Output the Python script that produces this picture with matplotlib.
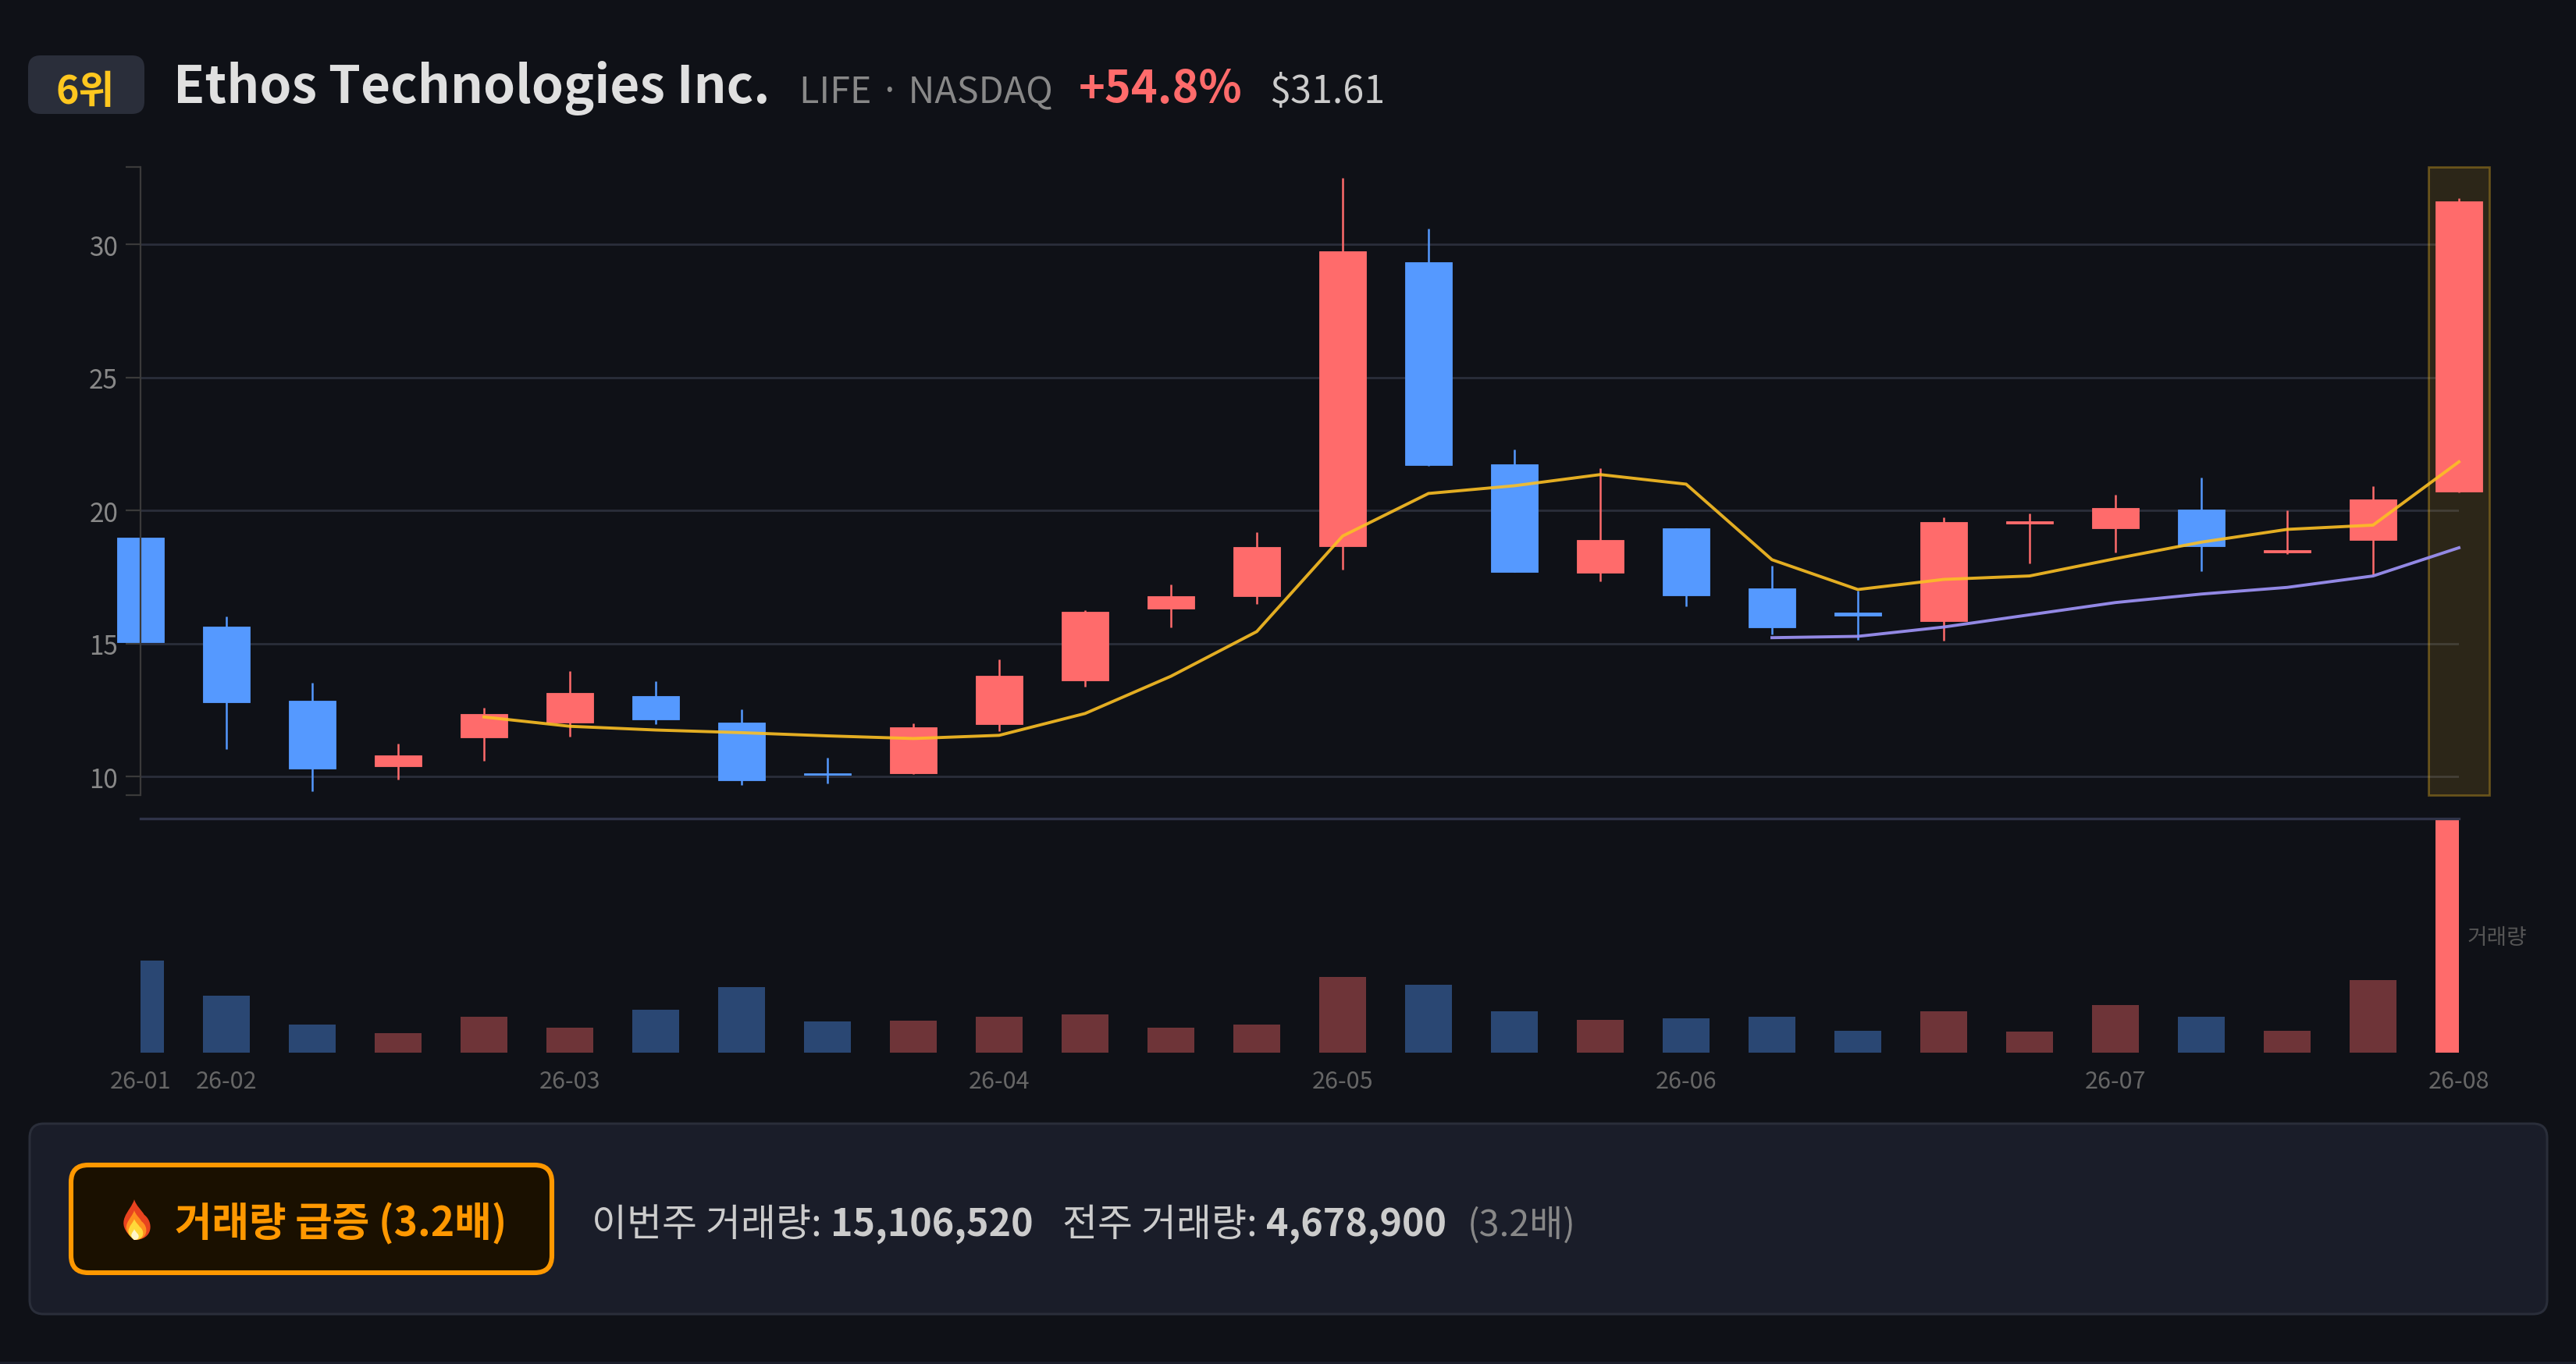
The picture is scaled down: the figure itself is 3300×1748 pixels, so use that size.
import numpy as np
import matplotlib
matplotlib.use('Agg')
import matplotlib.pyplot as plt
from matplotlib.patches import FancyBboxPatch, PathPatch, Rectangle
from matplotlib.path import Path

plt.rcParams['font.family'] = ['Noto Sans CJK KR', 'DejaVu Sans']

# weekly candles
opens = [18.99, 15.64, 12.85, 10.39, 11.46, 12.02, 13.03, 12.02, 10.13, 10.12,
         11.97, 13.62, 16.31, 16.78, 18.67, 29.34, 21.73, 17.66, 19.34, 17.07,
         16.17, 15.85, 19.51, 19.32, 20.05, 18.41, 18.88, 20.71]
closes = [15.05, 12.79, 10.29, 10.79, 12.36, 13.15, 12.14, 9.85, 10.07, 11.85,
          13.80, 16.20, 16.77, 18.64, 29.75, 21.70, 17.69, 18.89, 16.82, 15.60,
          16.06, 19.57, 19.59, 20.09, 18.65, 18.50, 20.42, 31.61]
highs = [18.99, 16.03, 13.52, 11.23, 12.59, 13.97, 13.57, 12.54, 10.72, 12.00,
         14.39, 16.26, 17.22, 19.18, 32.50, 30.59, 22.29, 21.60, 19.34, 17.93,
         17.00, 19.73, 19.88, 20.59, 21.25, 20.00, 20.91, 31.74]
lows = [15.05, 11.03, 9.44, 9.90, 10.59, 11.50, 11.97, 9.68, 9.73, 10.10,
        11.70, 13.38, 15.62, 16.48, 17.78, 21.67, 17.69, 17.34, 16.41, 15.33,
        15.15, 15.12, 18.02, 18.43, 17.73, 18.35, 17.58, 20.68]
ma_short = [None, None, None, None, 12.24, 11.89, 11.75, 11.65, 11.53, 11.43,
            11.55, 12.37, 13.77, 15.45, 19.04, 20.64, 20.93, 21.35, 20.99, 18.15,
            17.03, 17.41, 17.54, 18.19, 18.81, 19.29, 19.45, 21.83]
ma_long = [None] * 19 + [15.22, 15.27, 15.62, 16.08, 16.54, 16.86, 17.11, 17.54, 18.60]
volumes = [5940000, 3690000, 1800000, 1240000, 2330000, 1590000, 2770000, 4230000, 2000000, 2060000,
           2330000, 2450000, 1590000, 1830000, 4880000, 4380000, 2670000, 2110000, 2220000, 2320000,
           1430000, 2650000, 1340000, 3050000, 2320000, 1390000, 4678900, 15106520]
month_ticks = [0, 1, 5, 10, 14, 18, 23, 27]
month_labels = ['26-01', '26-02', '26-03', '26-04', '26-05', '26-06', '26-07', '26-08']
price_ticks = [10, 15, 20, 25, 30]
price_min, price_max = 9.29, 32.91

BG = '#0f1117'
RED = '#ff6b6b'
BLUE = '#5599ff'
W, H = 3300, 1749


def ax_rect(left, top, right, bottom):
    return [left / W, 1 - bottom / H, (right - left) / W, (bottom - top) / H]


fig = plt.figure(figsize=(16.5, 8.745), dpi=200, facecolor=BG)

# full figure axes in pixel coordinates for header and footer boxes
bg = fig.add_axes([0, 0, 1, 1], zorder=0)
bg.set_xlim(0, W)
bg.set_ylim(H, 0)
bg.axis('off')

bg.add_patch(Rectangle((0, 1746), W, 3, fc='#1a1d29', ec='none'))
bg.add_patch(FancyBboxPatch((36 + 14, 72 + 14), 149 - 28, 75 - 28, boxstyle='round,pad=14,rounding_size=16',
                            fc='#2a2e3a', ec='none'))
bg.text(109, 133, '6위', color='#ffc71f', fontsize=18, fontweight='bold', ha='center', va='baseline')
bg.text(222, 132, 'Ethos Technologies Inc.', color='#e0e0e0', fontsize=23.7, fontweight='bold', va='baseline')
bg.text(1024, 132, 'LIFE · NASDAQ', color='#888888', fontsize=16.8, va='baseline')
bg.text(1382, 132, '+54.8%', color=RED, fontsize=20.7, fontweight='bold', va='baseline')
bg.text(1626, 132, '$31.61', color='#cccccc', fontsize=17.5, va='baseline')

# alert panel
bg.add_patch(FancyBboxPatch((38 + 16, 1441 + 16), 3225 - 32, 244 - 32, boxstyle='round,pad=16,rounding_size=18',
                            fc='#1a1d29', ec='#2a2e3a', lw=1.1))
bg.add_patch(FancyBboxPatch((91 + 20, 1494 + 20), 616 - 40, 138 - 40, boxstyle='round,pad=20,rounding_size=22',
                            fc='#1a1000', ec='#ff9800', lw=2.2))


def flame(cx, bottom, w, h, color):
    # small flame drawn in pixel coordinates
    codes = [Path.MOVETO, Path.CURVE4, Path.CURVE4, Path.CURVE4,
             Path.CURVE4, Path.CURVE4, Path.CURVE4,
             Path.CURVE4, Path.CURVE4, Path.CURVE4]
    verts = [(cx, bottom),
             (cx + w * 0.62, bottom), (cx + w * 0.62, bottom - h * 0.45), (cx + w * 0.32, bottom - h * 0.62),
             (cx + w * 0.25, bottom - h * 0.72), (cx + w * 0.05, bottom - h * 0.85), (cx, bottom - h),
             (cx - w * 0.1, bottom - h * 0.7), (cx - w * 0.72, bottom - h * 0.45), (cx, bottom)]
    bg.add_patch(PathPatch(Path(verts, codes), fc=color, ec='none'))


flame(172, 1590, 40, 52, '#e8431f')
flame(172, 1590, 30, 38, '#ff8f1f')
flame(172, 1590, 22, 27, '#ffd83a')
flame(172, 1590, 11, 14, '#fff6c8')

bg.text(224, 1584, '거래량 급증 (3.2배)', color='#ff9800', fontsize=18.6, fontweight='bold', va='baseline')
bg.text(758, 1584, '이번주 거래량:', color='#cccccc', fontsize=17.6, va='baseline')
bg.text(1064, 1584, '15,106,520', color='#cccccc', fontsize=17.4, fontweight='bold', va='baseline')
bg.text(1361, 1584, '전주 거래량:', color='#cccccc', fontsize=17.6, va='baseline')
bg.text(1622, 1584, '4,678,900', color='#cccccc', fontsize=17.4, fontweight='bold', va='baseline')
bg.text(1880, 1584, '(3.2배)', color='#888888', fontsize=16.8, va='baseline')

# price panel
x = np.arange(len(closes))
o = np.array(opens)
c = np.array(closes)
colors = [RED if c1 >= o1 else BLUE for o1, c1 in zip(opens, closes)]

ax = fig.add_axes(ax_rect(180, 215, 3150, 1020.4), zorder=1)
ax.patch.set_alpha(0)
ax.set_xlim(0, 27)
ax.set_ylim(price_min, price_max)
for s in ['top', 'right', 'bottom']:
    ax.spines[s].set_visible(False)
ax.spines['left'].set_color('#3a3a3a')
ax.spines['left'].set_linewidth(0.8)
ax.set_xticks([])
ax.set_yticks(price_ticks)
ax.set_yticks([price_min, price_max], minor=True)
ax.tick_params(axis='y', which='both', length=6.8, width=0.8, color='#3a3a3a')
ax.tick_params(axis='y', which='major', labelsize=12, labelcolor='#888888', pad=3.6)
ax.set_axisbelow(True)
ax.grid(True, axis='y', which='major', color='#2a2e3a', lw=1.0)

band = ax.axvspan(26.645, 27.355, fc=(1, 0.77, 0.14, 0.12), ec=(1, 0.77, 0.14, 0.33), lw=1.0, zorder=1)
band.set_clip_on(False)

ax.vlines(x, lows, highs, colors=colors, lw=0.9, zorder=2, clip_on=False)
bodies = ax.bar(x, np.abs(c - o), bottom=np.minimum(o, c), width=0.545, color=colors, edgecolor=colors,
                lw=0.3, zorder=2.1)
for b in bodies:
    b.set_clip_on(False)

ma_s = np.array(ma_short, dtype=float)
ma_l = np.array(ma_long, dtype=float)
ax.plot(x, ma_s, color='#fbbf24', lw=1.4, alpha=0.9, zorder=3, clip_on=False, solid_joinstyle='miter')
ax.plot(x, ma_l, color='#9a8ff0', lw=1.4, alpha=0.95, zorder=3, clip_on=False, solid_joinstyle='miter')

# volume panel
ax_v = fig.add_axes(ax_rect(180, 1050, 3150, 1350), zorder=1)
ax_v.patch.set_alpha(0)
ax_v.set_xlim(0, 27)
ax_v.set_ylim(0, max(volumes))
for s in ['left', 'right', 'bottom']:
    ax_v.spines[s].set_visible(False)
ax_v.spines['top'].set_color('#2f3348')
ax_v.spines['top'].set_linewidth(1.2)
ax_v.set_yticks([])
ax_v.set_xticks(month_ticks, month_labels)
ax_v.tick_params(axis='x', length=0, labelsize=11, labelcolor='#666666', pad=7.5)
for lab in ax_v.get_xticklabels():
    lab.set_clip_on(False)

bar_alpha = [1.0 if i == len(volumes) - 1 else 0.4 for i in range(len(volumes))]
for i in range(len(volumes)):
    ax_v.bar(x[i], volumes[i], width=0.545, color=colors[i], alpha=bar_alpha[i], lw=0)

ax_v.text(3161, 1202, '거래량', transform=bg.transData, color='#555555', fontsize=10, va='center', ha='left')

fig.savefig('out.png', dpi=200, facecolor=BG)
